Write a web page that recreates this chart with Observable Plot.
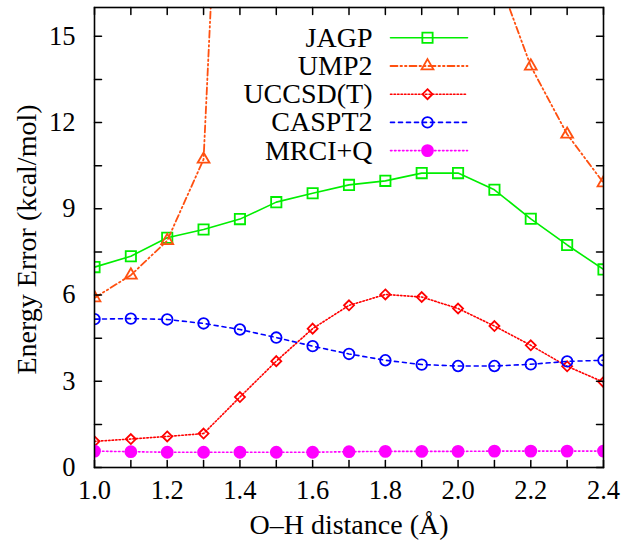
<!DOCTYPE html>
<html><head><meta charset="utf-8">
<script src="https://cdn.jsdelivr.net/npm/d3@7"></script>
<script src="https://cdn.jsdelivr.net/npm/@observablehq/plot@0.6"></script>
<style>body{margin:0;background:#fff}</style>
</head><body><div id="chart"></div>
<script>
// O–H distance (Å)
const distances = [1.0,1.1,1.2,1.3,1.4,1.5,1.6,1.7,1.8,1.9,2.0,2.1,2.2,2.3,2.4];
// Energy error (kcal/mol) per method
const jagp   = [6.97,7.35,7.99,8.28,8.64,9.23,9.54,9.83,9.97,10.24,10.24,9.66,8.65,7.74,6.89];
const ump2   = [5.90,6.69,7.89,10.72,37.6,60,75,85,85,70,40,17.4,13.96,11.59,9.90];
const uccsdt = [0.91,0.99,1.08,1.18,2.45,3.70,4.83,5.64,6.02,5.93,5.53,4.92,4.25,3.52,2.97];
const caspt2 = [5.16,5.18,5.15,5.01,4.80,4.52,4.22,3.95,3.73,3.58,3.53,3.53,3.59,3.69,3.73];
const mrciq  = [0.57,0.55,0.53,0.53,0.53,0.53,0.53,0.55,0.56,0.56,0.56,0.57,0.57,0.57,0.57];
const seriesNames = ["JAGP","UMP2","UCCSD(T)","CASPT2","MRCI+Q"];
const xTickLabels = [1.0,1.2,1.4,1.6,1.8,2.0,2.2,2.4];
const xTickMarks = distances;
const yTickLabels = [0,3,6,9,12,15];
const yTickMarks = [0,1.5,3,4.5,6,7.5,9,10.5,12,13.5,15];

const FONT = "Liberation Serif";
const FS_TICK = 26.5;
const FS_TEXT = 28;
const styles = [
  {values: jagp,   color: "#00ee00", dash: null,              symbol: "square",   fill: "none", r: 5.8, w: 1.6},
  {values: ump2,   color: "#ff5010", dash: "7,3,1.5,3,1.5,3", symbol: "triangle", fill: "none", r: 4.4, w: 1.8},
  {values: uccsdt, color: "#ff0000", dash: "1.5,2",           symbol: "diamond2", fill: "none", r: 4.5, w: 1.6},
  {values: caspt2, color: "#0000ff", dash: "4,4",             symbol: "circle",   fill: "none", r: 5.3, w: 1.6},
  {values: mrciq,  color: "#ff00ff", dash: "1.5,2.5",         symbol: "circle",   fill: "#ff00ff", r: 5.5, w: 1.6}
];

const tickShape = {draw(ctx, l) { ctx.moveTo(0, 0); ctx.lineTo(0, -l); }};
const lineShape = {draw(ctx, l) { ctx.moveTo(0, 0); ctx.lineTo(0, -l); }};

const marks = [];
styles.forEach((s, k) => {
  const rows = distances.map((x, i) => ({x, y: s.values[i]}));
  marks.push(Plot.line(rows, {x: "x", y: "y", stroke: s.color, strokeWidth: s.w, strokeDasharray: s.dash, clip: true}));
  marks.push(Plot.dot(rows, {x: "x", y: "y", symbol: () => s.symbol, r: s.r, stroke: s.color, fill: s.fill, strokeWidth: 1.8, clip: true}));
  // legend row
  const dy = 30.3 + 28.2 * k;
  marks.push(Plot.text([seriesNames[k]], {text: d => d, frameAnchor: "top-left", dx: 278, dy, textAnchor: "end", lineAnchor: "middle", fontSize: FS_TEXT, fill: "black"}));
  marks.push(Plot.vector([0], {frameAnchor: "top-left", dx: 296, dy, rotate: 90, length: 77, anchor: "start", shape: lineShape, stroke: s.color, strokeWidth: s.w, strokeDasharray: s.dash}));
  marks.push(Plot.dot([0], {frameAnchor: "top-left", dx: 333, dy, symbol: s.symbol, r: s.r, stroke: s.color, fill: s.fill, strokeWidth: 1.8}));
});

const chart = Plot.plot({
  width: 633,
  height: 546,
  marginLeft: 94,
  marginRight: 30,
  marginTop: 7,
  marginBottom: 79,
  style: {background: "#fff", fontFamily: FONT},
  x: {domain: [1.0, 2.4]},
  y: {domain: [0, 16]},
  symbol: {type: "identity"},
  marks: [
    ...marks,
    Plot.frame({stroke: "black", strokeWidth: 1.6}),
    Plot.vector(xTickMarks, {x: d => d, frameAnchor: "bottom", rotate: 0, length: 7, anchor: "start", shape: tickShape, stroke: "black"}),
    Plot.vector(xTickMarks, {x: d => d, frameAnchor: "top", rotate: 180, length: 7, anchor: "start", shape: tickShape, stroke: "black"}),
    Plot.vector(yTickMarks, {y: d => d, frameAnchor: "left", rotate: 90, length: 7, anchor: "start", shape: tickShape, stroke: "black"}),
    Plot.vector(yTickMarks, {y: d => d, frameAnchor: "right", rotate: -90, length: 7, anchor: "start", shape: tickShape, stroke: "black"}),
    Plot.axisX(xTickLabels, {tickSize: 0, tickPadding: 12.5, tickFormat: d3.format(".1f"), fontSize: FS_TICK, label: null, fill: "black"}),
    Plot.axisY(yTickLabels, {tickSize: 0, tickPadding: 19, fontSize: FS_TICK, label: null, fill: "black"}),
    Plot.text(["O\u2013H distance (\u00c5)"], {text: d => d, frameAnchor: "bottom", dy: 57.5, textAnchor: "middle", lineAnchor: "middle", fontSize: FS_TEXT, fill: "black"}),
    Plot.text(["Energy Error (kcal/mol)"], {text: d => d, frameAnchor: "left", dx: -67, dy: 2, rotate: -90, textAnchor: "middle", lineAnchor: "middle", fontSize: FS_TEXT, fill: "black"})
  ]
});
d3.select(chart).selectAll("text").each(function() {
  const g = this.closest("g[font-size]");
  const fs = g ? g.getAttribute("font-size") : null;
  this.style.setProperty("font-family", "'Liberation Serif', 'Times New Roman', serif", "important");
  if (fs) this.style.setProperty("font-size", fs + "px", "important");
});
document.getElementById("chart").appendChild(chart);
</script>
</body></html>
